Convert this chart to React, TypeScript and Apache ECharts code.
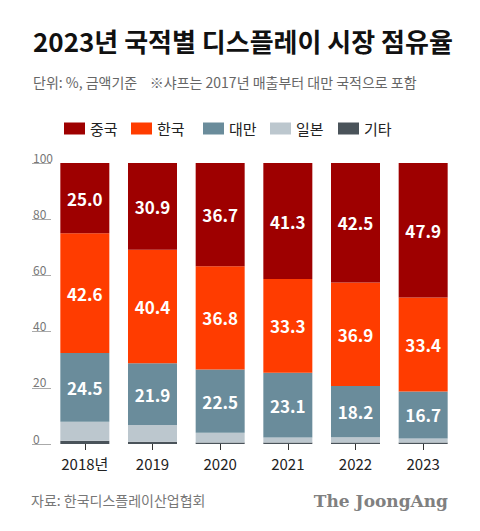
import React, { useEffect, useRef } from "react";
import * as echarts from "echarts";

const categories = ["2018년", "2019", "2020", "2021", "2022", "2023"];
const china = [25.0, 30.9, 36.7, 41.3, 42.5, 47.9];
const korea = [42.6, 40.4, 36.8, 33.3, 36.9, 33.4];
const taiwan = [24.5, 21.9, 22.5, 23.1, 18.2, 16.7];
const japan = [6.7, 6.0, 3.5, 1.8, 1.9, 1.5];
const others = [1.2, 0.8, 0.5, 0.5, 0.5, 0.5];
const yTicks = [0, 20, 40, 60, 80, 100];

const COLORS = {
  china: "#9e0000",
  korea: "#ff3c00",
  taiwan: "#6a8c9b",
  japan: "#bcc7ce",
  others: "#4a535a",
};

const FONT = "'Noto Sans CJK KR', 'Noto Sans', sans-serif";

export default function App() {
  const ref = useRef<HTMLDivElement>(null);
  useEffect(() => {
    document.body.style.margin = "0";
    const chart = echarts.init(ref.current!, undefined, { renderer: "svg" });
    const label = {
      show: true,
      position: "inside",
      color: "#fff",
      fontSize: 17,
      fontWeight: "bold",
      fontFamily: FONT,
      formatter: (p: any) => Number(p.value).toFixed(1),
    };
    const legendPos = [
      { name: "중국", left: 59 },
      { name: "한국", left: 126 },
      { name: "대만", left: 198 },
      { name: "일본", left: 265 },
      { name: "기타", left: 333 },
    ];
    chart.setOption({
      animation: false,
      textStyle: { fontFamily: FONT },
      legend: legendPos.map((l) => ({
        data: [l.name],
        left: l.left,
        top: 116,
        itemWidth: 21,
        itemHeight: 12,
        itemGap: 0,
        icon: "rect",
        selectedMode: false,
        textStyle: { fontSize: 15, color: "#222", fontFamily: FONT },
      })),
      grid: { left: 51, right: 23, top: 163, bottom: 87 },
      xAxis: {
        type: "category",
        data: categories,
        axisLine: { show: false },
        axisTick: { show: true, alignWithLabel: true, length: 6, lineStyle: { color: "#333" } },
        axisLabel: { fontSize: 15, color: "#222", margin: 12, fontFamily: FONT },
      },
      yAxis: {
        type: "value",
        min: 0,
        max: 100,
        interval: 20,
        axisLine: { show: false },
        splitLine: { show: false },
        axisTick: { show: true, length: 19, lineStyle: { color: "#aaa", width: 1 } },
        axisLabel: {
          align: "left",
          verticalAlign: "bottom",
          margin: 18,
          fontSize: 12,
          color: "#777",
          fontFamily: FONT,
          customValues: yTicks,
        },
      },
      series: [
        { name: "기타", type: "bar", stack: "s", data: others, barWidth: 49, itemStyle: { color: COLORS.others } },
        { name: "일본", type: "bar", stack: "s", data: japan, barWidth: 49, itemStyle: { color: COLORS.japan } },
        { name: "대만", type: "bar", stack: "s", data: taiwan, barWidth: 49, itemStyle: { color: COLORS.taiwan }, label },
        { name: "한국", type: "bar", stack: "s", data: korea, barWidth: 49, itemStyle: { color: COLORS.korea }, label },
        { name: "중국", type: "bar", stack: "s", data: china, barWidth: 49, itemStyle: { color: COLORS.china }, label },
      ],
      graphic: [
        {
          type: "text",
          left: 33,
          top: 27,
          style: {
            text: "2023년 국적별 디스플레이 시장 점유율",
            fontSize: 26,
            fontWeight: "bold",
            fill: "#111",
            fontFamily: FONT,
          },
        },
        {
          type: "text",
          left: 33,
          top: 75,
          style: {
            text: "단위: %, 금액기준    ※샤프는 2017년 매출부터 대만 국적으로 포함",
            fontSize: 14,
            fill: "#666",
            fontFamily: FONT,
          },
        },
        {
          type: "text",
          left: 31,
          top: 493,
          style: { text: "자료: 한국디스플레이산업협회", fontSize: 14, fill: "#777", fontFamily: FONT },
        },
        {
          type: "text",
          right: 32,
          top: 492,
          style: {
            text: "The JoongAng",
            fontSize: 17,
            fontWeight: "bold",
            fill: "#808080",
            fontFamily: "'DejaVu Serif', 'Liberation Serif', serif",
          },
        },
      ],
    });
    return () => chart.dispose();
  }, []);
  return <div ref={ref} style={{ width: 480, height: 531 }} />;
}
